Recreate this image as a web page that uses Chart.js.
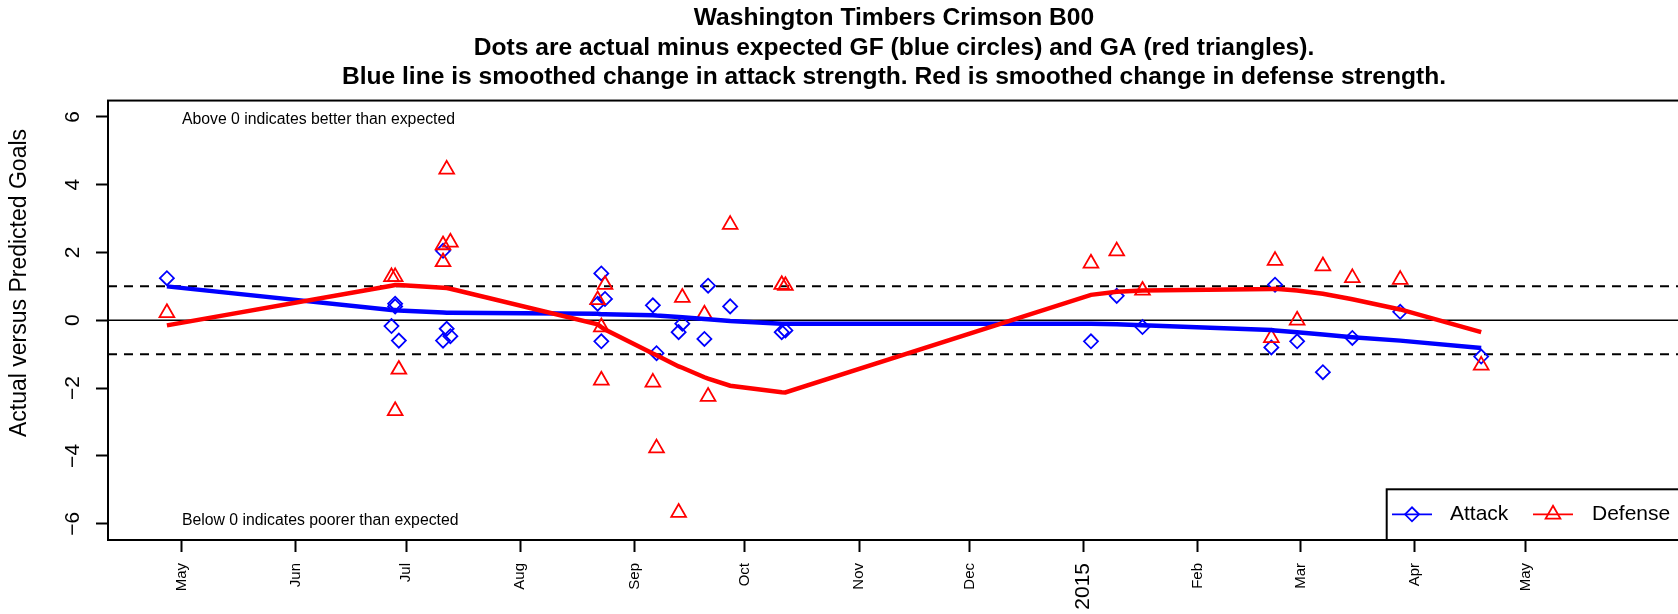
<!DOCTYPE html>
<html>
<head>
<meta charset="utf-8">
<script src="https://cdn.jsdelivr.net/npm/chart.js@4/dist/chart.umd.min.js"></script>
<style>
html, body { margin: 0; padding: 0; overflow: hidden; background: #ffffff; width: 1678px; height: 614px; }
#wrap { width: 1700px; height: 614px; }
canvas { display: block; }
</style>
</head>
<body>
<div id="wrap"><canvas id="c" width="1700" height="614" style="width:1700px;height:614px"></canvas></div>
<script>
// ---------------- data ----------------
const gameDates = [
  '2014-04-27',
  '2014-06-27', '2014-06-28', '2014-06-28', '2014-06-29',
  '2014-07-11', '2014-07-11', '2014-07-12', '2014-07-13',
  '2014-08-22', '2014-08-23', '2014-08-23', '2014-08-24',
  '2014-09-06', '2014-09-07', '2014-09-13', '2014-09-14',
  '2014-09-20', '2014-09-21', '2014-09-27',
  '2014-10-11', '2014-10-12',
  '2015-01-03', '2015-01-10', '2015-01-17',
  '2015-02-21', '2015-02-22', '2015-02-28',
  '2015-03-07', '2015-03-15', '2015-03-28', '2015-04-19'
];
const attackDiff = [
  1.24,
  -0.17, 0.49, 0.41, -0.60,
  2.05, -0.60, -0.25, -0.47,
  0.49, 1.38, -0.62, 0.63,
  0.44, -0.97, -0.35, -0.10,
  -0.55, 1.02, 0.41,
  -0.35, -0.30,
  -0.62, 0.72, -0.20,
  -0.80, 1.05, -0.62,
  -1.53, -0.52, 0.25, -1.07
];
const defenseDiff = [
  0.22,
  1.28, -2.67, 1.28, -1.45,
  2.22, 1.72, 4.45, 2.30,
  0.60, -0.20, -1.77, 1.05,
  -1.83, -3.77, -5.67, 0.67,
  0.18, -2.25, 2.82,
  1.05, 1.02,
  1.68, 2.04, 0.88,
  -0.52, 1.76, 0.00,
  1.60, 1.25, 1.20, -1.33
];
const attackSmooth = [
  1.00,
  0.30, 0.30, 0.30, 0.29,
  0.23, 0.23, 0.22, 0.22,
  0.19, 0.18, 0.18, 0.18,
  0.15, 0.14, 0.10, 0.09,
  0.04, 0.03, -0.02,
  -0.10, -0.10,
  -0.10, -0.12, -0.15,
  -0.29, -0.30, -0.35,
  -0.42, -0.50, -0.60, -0.82
];
const defenseSmooth = [
  -0.15,
  1.02, 1.04, 1.04, 1.04,
  0.96, 0.96, 0.95, 0.93,
  -0.12, -0.20, -0.20, -0.27,
  -0.98, -1.03, -1.36, -1.40,
  -1.68, -1.72, -1.93,
  -2.12, -2.13,
  0.75, 0.84, 0.88,
  0.92, 0.93, 0.88,
  0.78, 0.62, 0.32, -0.35
];
const monthTickDates = ['2014-05-01','2014-06-01','2014-07-01','2014-08-01','2014-09-01','2014-10-01',
  '2014-11-01','2014-12-01','2015-01-01','2015-02-01','2015-03-01','2015-04-01','2015-05-01'];
const monthTickLabels = ['May','Jun','Jul','Aug','Sep','Oct','Nov','Dec','2015','Feb','Mar','Apr','May'];
const xRangeDates = ['2014-04-11', '2015-06-12'];
const yTickValues = [-6, -4, -2, 0, 2, 4, 6];
const yRange = [-6.48, 6.48];
const solidRefLines = [0];
const dashedRefLines = [-1, 1];
const titleLines = [
  'Washington Timbers Crimson B00',
  'Dots are actual minus expected GF (blue circles) and GA (red triangles).',
  'Blue line is smoothed change in attack strength. Red is smoothed change in defense strength.'
];
const yAxisLabel = 'Actual versus Predicted Goals';
const noteTop = 'Above 0 indicates better than expected';
const noteBottom = 'Below 0 indicates poorer than expected';
const noteValues = [6, -6];
const seriesNames = ['Attack', 'Defense'];

// ---------------- helpers ----------------
const toDay = s => Date.UTC(+s.slice(0, 4), +s.slice(5, 7) - 1, +s.slice(8, 10)) / 86400000;
const pts = arr => gameDates.map((d, i) => ({ x: toDay(d), y: arr[i] }));
const BLUE = '#0000FF', RED = '#FF0000';
const FONT = "'Liberation Sans', Arial, Helvetica, sans-serif";
const monthTickDays = monthTickDates.map(toDay);

Chart.defaults.font.family = FONT;
Chart.defaults.color = '#000000';

const decor = {
  id: 'decor',
  beforeDatasetsDraw(chart) {
    const { ctx, chartArea: a, scales: { y } } = chart;
    ctx.save();
    ctx.beginPath(); ctx.rect(a.left, a.top, a.right - a.left, a.bottom - a.top); ctx.clip();
    ctx.strokeStyle = '#000';
    ctx.lineWidth = 1.6;
    ctx.setLineDash([]);
    solidRefLines.forEach(v => {
      const py = y.getPixelForValue(v);
      ctx.beginPath(); ctx.moveTo(a.left, py); ctx.lineTo(a.right, py); ctx.stroke();
    });
    ctx.lineWidth = 2;
    ctx.setLineDash([9, 7]);
    dashedRefLines.forEach(v => {
      const py = y.getPixelForValue(v);
      ctx.beginPath(); ctx.moveTo(a.left, py); ctx.lineTo(a.right, py); ctx.stroke();
    });
    ctx.restore();
  },
  afterDraw(chart) {
    const { ctx, chartArea: a, scales: { x, y } } = chart;
    ctx.save();
    // plot box
    ctx.strokeStyle = '#000'; ctx.lineWidth = 2; ctx.setLineDash([]);
    ctx.strokeRect(a.left, a.top, a.right - a.left, a.bottom - a.top);
    // notes
    ctx.fillStyle = '#000';
    ctx.font = '15.8px ' + FONT;
    ctx.textAlign = 'left'; ctx.textBaseline = 'middle';
    const nx = x.getPixelForValue(toDay(gameDates[0])) + 15;
    ctx.fillText(noteTop, nx, y.getPixelForValue(noteValues[0]) + 3);
    ctx.fillText(noteBottom, nx, y.getPixelForValue(noteValues[1]) - 3);
    // y axis label
    ctx.save();
    ctx.translate(19.5, 283);
    ctx.rotate(-Math.PI / 2);
    ctx.font = '23px ' + FONT;
    ctx.textAlign = 'center'; ctx.textBaseline = 'middle';
    ctx.fillText(yAxisLabel, 0, 0);
    ctx.restore();
    // legend
    const lx = 1386.7, ly = 489.3;
    ctx.fillStyle = '#fff';
    ctx.fillRect(lx, ly, a.right - lx, a.bottom - ly);
    ctx.strokeStyle = '#000'; ctx.lineWidth = 2;
    ctx.strokeRect(lx, ly, a.right - lx, a.bottom - ly);
    const cy = 514.3;
    const items = [
      { cx: 1412, color: BLUE, style: 'rectRot', r: 7, tx: 1450, label: seriesNames[0] },
      { cx: 1553, color: RED, style: 'triangle', r: 8.5, tx: 1592, label: seriesNames[1] }
    ];
    items.forEach(it => {
      ctx.strokeStyle = it.color; ctx.lineWidth = 1.8;
      ctx.beginPath(); ctx.moveTo(it.cx - 20, cy); ctx.lineTo(it.cx + 20, cy); ctx.stroke();
      ctx.fillStyle = 'rgba(0,0,0,0)';
      Chart.helpers.drawPoint(ctx, { pointStyle: it.style, radius: it.r, borderWidth: 1.8, rotation: 0 }, it.cx, cy);
      ctx.fillStyle = '#000';
      ctx.font = '21px ' + FONT;
      ctx.textAlign = 'left'; ctx.textBaseline = 'middle';
      ctx.fillText(it.label, it.tx, cy);
    });
    ctx.restore();
  }
};

new Chart(document.getElementById('c'), {
  type: 'scatter',
  data: {
    datasets: [
      { label: seriesNames[0] + ' smooth', type: 'line', data: pts(attackSmooth), borderColor: BLUE,
        borderWidth: 4.5, pointRadius: 0, fill: false, tension: 0, order: 1 },
      { label: seriesNames[1] + ' smooth', type: 'line', data: pts(defenseSmooth), borderColor: RED,
        borderWidth: 4.5, pointRadius: 0, fill: false, tension: 0, order: 0 },
      { label: seriesNames[0], data: pts(attackDiff), pointStyle: 'rectRot', pointRadius: 7,
        borderColor: BLUE, backgroundColor: 'rgba(0,0,0,0)', borderWidth: 1.8, order: 3 },
      { label: seriesNames[1], data: pts(defenseDiff), pointStyle: 'triangle', pointRadius: 8.5,
        borderColor: RED, backgroundColor: 'rgba(0,0,0,0)', borderWidth: 1.8, order: 2 }
    ]
  },
  options: {
    responsive: false,
    devicePixelRatio: 1,
    animation: false,
    layout: { padding: { left: 0, right: 20, top: 0, bottom: 0 } },
    plugins: {
      legend: { display: false },
      tooltip: { enabled: false },
      title: {
        display: true, fullSize: false, text: titleLines, color: '#000',
        font: { size: 24.6, weight: 'bold', lineHeight: 1.2 },
        padding: { top: 3.8, bottom: 8.2 }
      }
    },
    scales: {
      x: {
        type: 'linear', position: 'bottom',
        min: toDay(xRangeDates[0]), max: toDay(xRangeDates[1]),
        afterBuildTicks: s => { s.ticks = monthTickDays.map(v => ({ value: v })); },
        afterFit: s => { s.height = 74; },
        border: { display: false },
        grid: { display: true, drawOnChartArea: false, drawTicks: true, tickLength: 12, tickColor: '#000', tickWidth: 2 },
        ticks: {
          autoSkip: false, minRotation: 90, maxRotation: 90, padding: 11, color: '#000',
          callback: (v, i) => monthTickLabels[i],
          font: c => (c.tick && monthTickLabels[c.index] === '2015') ? { size: 21 } : { size: 15 }
        }
      },
      y: {
        type: 'linear', position: 'left',
        min: yRange[0], max: yRange[1],
        afterBuildTicks: s => { s.ticks = yTickValues.map(v => ({ value: v })); },
        afterFit: s => { s.width = 108; },
        border: { display: false },
        grid: { display: true, drawOnChartArea: false, drawTicks: true, tickLength: 12, tickColor: '#000', tickWidth: 2 },
        ticks: {
          minRotation: 90, maxRotation: 90, crossAlign: 'center', padding: 11, color: '#000',
          font: { size: 21 },
          callback: v => (v < 0 ? '\u2212' + Math.abs(v) : String(v))
        }
      }
    }
  },
  plugins: [decor]
});
</script>
</body>
</html>
